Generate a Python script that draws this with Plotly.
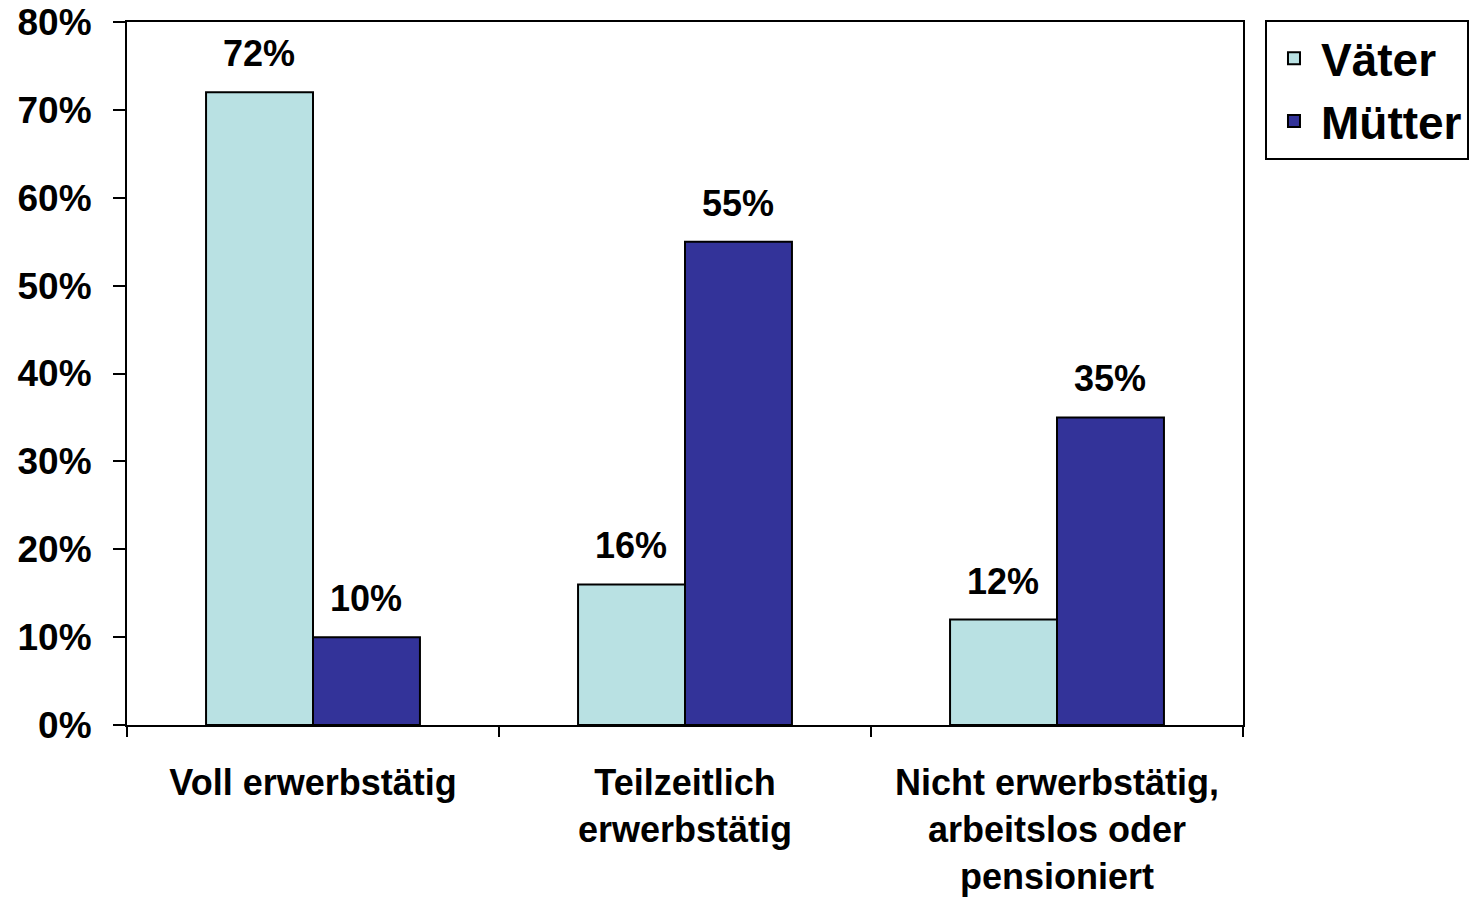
import plotly.graph_objects as go

categories = ["Voll erwerbstätig", "Teilzeitlich<br>erwerbstätig", "Nicht erwerbstätig,<br>arbeitslos oder<br>pensioniert"]
vaeter = [0.72, 0.16, 0.12]
muetter = [0.10, 0.55, 0.35]
y_ticks = [0, 0.1, 0.2, 0.3, 0.4, 0.5, 0.6, 0.7, 0.8]

FONT = "Liberation Sans, Arial, sans-serif"
BOLD = dict(family=FONT, size=36, color="black", weight="bold")
XTICK = dict(family=FONT, size=36, color="black", weight="bold")
YTICK = dict(family=FONT, size=37, color="black", weight="bold")

fig = go.Figure()
fig.add_trace(go.Bar(
    name="Väter", x=categories, y=vaeter,
    marker=dict(color="#B9E1E3", line=dict(color="black", width=2)),
    cliponaxis=False,
))
fig.add_trace(go.Bar(
    name="Mütter", x=categories, y=muetter,
    marker=dict(color="#333399", line=dict(color="black", width=2)),
    cliponaxis=False,
))

# data labels above the bars
for series, shift in ((vaeter, -54), (muetter, 53)):
    for cat, v in zip(categories, series):
        fig.add_annotation(
            x=cat, y=v, xref="x", yref="y", text=f"{v:.0%}",
            showarrow=False, xanchor="center", yanchor="bottom",
            xshift=shift, yshift=16, font=BOLD,
        )

fig.update_layout(
    width=1469, height=899,
    margin=dict(l=127, r=226, t=22, b=174, autoexpand=False),
    paper_bgcolor="white", plot_bgcolor="white",
    barmode="group", bargap=0.425, bargroupgap=0,
    font=BOLD,
    showlegend=True,
    legend=dict(
        x=1.0197, y=1.003, xanchor="left", yanchor="top",
        bordercolor="black", borderwidth=2, bgcolor="white",
        font=dict(family=FONT, size=46, color="black", weight="bold"),
        itemwidth=44, tracegroupgap=0,
    ),
)
fig.update_xaxes(
    showline=True, linecolor="black", linewidth=2, mirror=True,
    ticks="outside", ticklen=10, tickwidth=2, tickcolor="black",
    tickson="boundaries", showgrid=False, automargin=False,
    ticklabelstandoff=25,
    tickfont=XTICK,
)
fig.update_yaxes(
    range=[0, 0.8], tickvals=y_ticks, tickformat=".0%",
    showline=True, linecolor="black", linewidth=2, mirror=True,
    ticks="outside", ticklen=12, tickwidth=2, tickcolor="black",
    showgrid=False, zeroline=False, automargin=False,
    ticklabelstandoff=14,
    tickfont=YTICK,
)
fig.write_html("out.html", config={"displayModeBar": False},
               post_script="document.body.style.margin='0px';")
